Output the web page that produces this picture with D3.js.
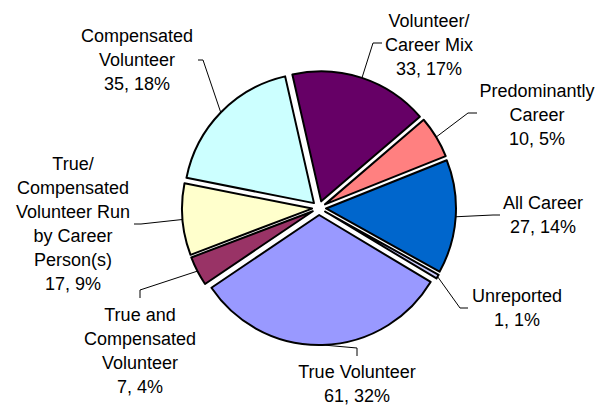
<!DOCTYPE html>
<html>
<head>
<meta charset="utf-8">
<script src="https://cdn.jsdelivr.net/npm/d3@7"></script>
<style>
  body { margin: 0; background: #fff; }
  text { font-family: "Liberation Sans", Arial, sans-serif; font-size: 18px; fill: #000; }
</style>
</head>
<body>
<div id="chart"></div>
<script>
// data, in the order the slices run clockwise
var categories = ["True Volunteer", "True and\nCompensated\nVolunteer",
  "True/\nCompensated\nVolunteer Run\nby Career\nPerson(s)", "Compensated\nVolunteer",
  "Volunteer/\nCareer Mix", "Predominantly\nCareer", "All Career", "Unreported"];
var counts = [61, 7, 17, 35, 33, 10, 27, 1];
var colors = ["#9999ff", "#993366", "#ffffcc", "#ccffff", "#660066", "#ff8080", "#0066cc", "#ccccff"];

// where the labels sit (center x, first baseline) and their leader stub
var labelPos = [[357, 378], [140, 321], [73, 170], [137, 42], [429, 27], [537, 97], [543, 209], [517, 302]];
var stubs = [[[357, 356], [357, 348]], [[140, 298], [140, 290]], [[134, 224], [141, 224]],
  [[198, 60], [203, 60]], [[382, 43], [373, 43]], [[477, 113], [468, 113]],
  [[500, 215], [493, 215]], [[468, 308], [460, 308]]];

var width = 604, height = 405;
var cx = 319, cy = 208, radius = 130, explode = 7;
var firstAngle = 121 * Math.PI / 180;

var svg = d3.select("#chart").append("svg")
    .attr("width", width)
    .attr("height", height);

var total = d3.sum(counts);
var data = counts.map(function(v, i) {
  return {name: categories[i], value: v, color: colors[i], label: labelPos[i], stub: stubs[i]};
});

var pie = d3.pie()
    .sort(null)
    .value(function(d) { return d.value; })
    .startAngle(firstAngle)
    .endAngle(firstAngle + 2 * Math.PI);

var arc = d3.arc().innerRadius(0).outerRadius(radius);
var arcs = pie(data);

function dir(d) {
  var m = (d.startAngle + d.endAngle) / 2;
  return [Math.sin(m), -Math.cos(m)];
}

var g = svg.append("g").attr("transform", "translate(" + cx + "," + cy + ")");

g.selectAll("path.slice")
    .data(arcs)
  .enter().append("path")
    .attr("class", "slice")
    .attr("transform", function(d) {
      var u = dir(d);
      return "translate(" + u[0] * explode + "," + u[1] * explode + ")";
    })
    .attr("d", arc)
    .style("fill", function(d) { return d.data.color; })
    .style("stroke", "#000")
    .style("stroke-width", 2)
    .style("stroke-linejoin", "round");

// leader lines
svg.selectAll("path.leader")
    .data(arcs)
  .enter().append("path")
    .attr("class", "leader")
    .attr("d", function(d) {
      var u = dir(d);
      var r = radius + explode;
      var p = [cx + u[0] * r, cy + u[1] * r];
      return d3.line()([d.data.stub[0], d.data.stub[1], p]);
    })
    .style("fill", "none")
    .style("stroke", "#000")
    .style("stroke-width", 1);

// labels
var labels = svg.selectAll("text.lbl")
    .data(arcs)
  .enter().append("text")
    .attr("class", "lbl")
    .attr("text-anchor", "middle");

labels.each(function(d) {
  var lines = d.data.name.split("\n");
  lines.push(d.data.value + ", " + Math.round(d.data.value / total * 100) + "%");
  d3.select(this).selectAll("tspan")
      .data(lines)
    .enter().append("tspan")
      .attr("x", d.data.label[0])
      .attr("y", function(t, i) { return d.data.label[1] + i * 24; })
      .text(function(t) { return t; });
});
</script>
</body>
</html>
